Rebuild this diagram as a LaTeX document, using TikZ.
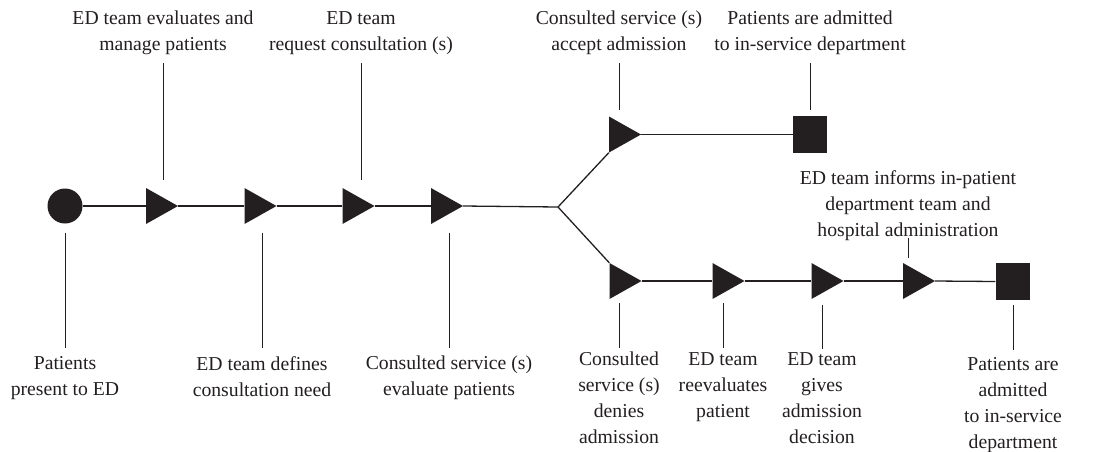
\documentclass[tikz,border=0pt]{standalone}
\usepackage{fontspec}
\setmainfont{Liberation Serif}
\definecolor{ink}{HTML}{231F20}
\begin{document}
\begin{tikzpicture}[x=1pt,y=-1pt,
  tri/.style={rectangle, minimum width=32pt, minimum height=36pt, inner sep=0pt,
    path picture={\fill[ink] (path picture bounding box.north west) -- (path picture bounding box.east) -- (path picture bounding box.south west) -- cycle;}},
  sq/.style={rectangle, fill=ink, minimum width=34pt, minimum height=37pt, inner sep=0pt},
  dot/.style={circle, fill=ink, minimum size=35pt, inner sep=0pt},
  flow/.style={draw=ink, line width=1.3pt},
  tick/.style={draw=ink, line width=1pt},
  lab/.style={text=ink, align=center, inner sep=0pt, anchor=north, font=\fontsize{19.7}{26}\selectfont}]
\useasboundingbox (0,0) rectangle (1106,451);
% shapes
\node[dot] (S) at (65,206) {};
\node[tri] (T1) at (162,206) {};
\node[tri] (T2) at (260.5,206) {};
\node[tri] (T3) at (358.5,206) {};
\node[tri] (T4) at (447,206) {};
\coordinate (B) at (558,207);
\node[tri] (U1) at (625,134.5) {};
\node[sq] (E1) at (810,134.5) {};
\node[tri] (L1) at (625.5,281) {};
\node[tri] (L2) at (728.5,281) {};
\node[tri] (L3) at (827.5,281) {};
\node[tri] (L4) at (919,281) {};
\node[sq] (E2) at (1012.5,281.5) {};
% flow connectors
\draw[flow] (S) -- (T1.west);
\draw[flow] (T1.east) -- (T2.west);
\draw[flow] (T2.east) -- (T3.west);
\draw[flow] (T3.east) -- (T4.west);
\draw[flow] (T4.east) -- (B);
\draw[flow] (B) -- (U1.south west);
\draw[flow] (U1.east) -- (E1.west);
\draw[flow] (B) -- (L1.north west);
\draw[flow] (L1.east) -- (L2.west);
\draw[flow] (L2.east) -- (L3.west);
\draw[flow] (L3.east) -- (L4.west);
\draw[flow] (L4.east) -- (E2.west);
% top labels
\node[lab] (a1) at (163,11) {ED team evaluates and\\manage patients};
\node[lab] (a3) at (361,11) {ED team\\request consultation (s)};
\node[lab] (au) at (619,11) {Consulted service (s)\\accept admission};
\node[lab] (ae) at (810,11) {Patients are admitted\\to in-service department};
\node[lab] (a4) at (908,170) {ED team informs in-patient\\department team and\\hospital administration};
% bottom labels
\node[lab] (b0) at (65,356) {Patients\\present to ED};
\node[lab] (b2) at (262,356) {ED team defines\\consultation need};
\node[lab] (b4) at (449,356) {Consulted service (s)\\evaluate patients};
\node[lab] (c1) at (619,352) {Consulted\\service (s)\\denies\\admission};
\node[lab] (c2) at (723,352) {ED team\\reevaluates\\patient};
\node[lab] (c3) at (822,352) {ED team\\gives\\admission\\decision};
\node[lab] (ce) at (1013,357) {Patients are\\admitted\\to in-service\\department};
% label ticks
\draw[tick] (a1.south |- 0,63) -- (a1.south |- 0,180);
\draw[tick] (a3.south |- 0,63) -- (a3.south |- 0,180);
\draw[tick] (au.south |- 0,63) -- (au.south |- 0,110);
\draw[tick] (ae.south |- 0,63) -- (ae.south |- 0,110);
\draw[tick] (a4.south |- 0,238) -- (a4.south |- 0,258);
\draw[tick] (b0.north |- 0,233) -- (b0.north |- 0,348);
\draw[tick] (b2.north |- 0,233) -- (b2.north |- 0,348);
\draw[tick] (b4.north |- 0,233) -- (b4.north |- 0,348);
\draw[tick] (c1.north |- 0,303) -- (c1.north |- 0,348);
\draw[tick] (c2.north |- 0,303) -- (c2.north |- 0,348);
\draw[tick] (c3.north |- 0,305) -- (c3.north |- 0,349);
\draw[tick] (ce.north |- 0,305) -- (ce.north |- 0,350);
\end{tikzpicture}
\end{document}
